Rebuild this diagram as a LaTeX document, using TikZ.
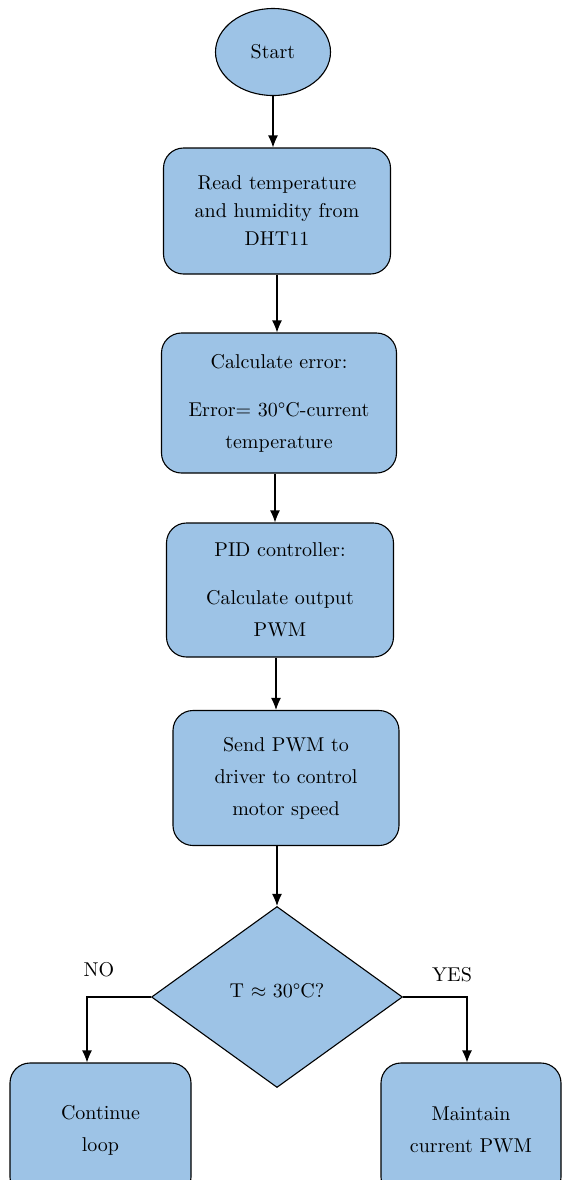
\documentclass[tikz,border=0pt]{standalone}
\usetikzlibrary{shapes.geometric,arrows.meta}
\definecolor{boxblue}{RGB}{157,195,230}
\begin{document}
\begin{tikzpicture}[x=0.5pt,y=-0.5pt,>={Latex[length=6pt,width=5pt]},line width=0.55pt,
    every node/.style={font=\fontsize{10}{16}\selectfont},
    proc/.style={draw,fill=boxblue,rounded corners=10pt,align=center,inner sep=0pt},
    term/.style={draw,ellipse,fill=boxblue,inner sep=0pt},
    decide/.style={draw,diamond,fill=boxblue,inner sep=0pt}]
    \useasboundingbox (0,0) rectangle (563,1180);
    \clip (0,0) rectangle (563,1180);
    \node[term,minimum width=57.5pt,minimum height=43.5pt] (start) at (273,52) {Start};
    \node[proc,minimum width=113.5pt,minimum height=63pt,font=\fontsize{10}{14}\selectfont] (read) at (277,211)
        {Read temperature\\and humidity from\\DHT11};
    \node[proc,minimum width=117.5pt,minimum height=70pt] (err) at (279,403)
        {Calculate error:\\[8pt]Error= 30°C-current\\temperature};
    \node[proc,minimum width=113.5pt,minimum height=67pt] (pid) at (280,590)
        {PID controller:\\[8pt]Calculate output\\PWM};
    \node[proc,minimum width=113pt,minimum height=67.5pt] (send) at (286,778)
        {Send PWM to\\driver to control\\motor speed};
    \node[decide,minimum width=125.5pt,minimum height=90.5pt] (dec) at (277,997)
        {\raisebox{7pt}{T $\approx$ 30°C?}};
    \node[proc,minimum width=90.5pt,minimum height=67pt] (cont) at (100.5,1130) {Continue\\loop};
    \node[proc,minimum width=90pt,minimum height=67pt] (maint) at (471,1130) {Maintain\\current PWM};
    \node (nolbl) at (99,970) {NO};
    \node (yeslbl) at (452,975) {YES};
    \draw[->] (start.south) -- (start.south |- read.north);
    \draw[->] (read.south) -- (read.south |- err.north);
    \draw[->] ([xshift=-2pt]err.south) -- ([xshift=-2pt]err.south |- pid.north);
    \draw[->] ([xshift=-2pt]pid.south) -- ([xshift=-2pt]pid.south |- send.north);
    \draw[->] (dec.north |- send.south) -- (dec.north);
    \draw[->] (dec.west) -| ([xshift=-6.75pt]cont.north);
    \draw[->] (dec.east) -| ([xshift=-2pt]maint.north);
\end{tikzpicture}
\end{document}
